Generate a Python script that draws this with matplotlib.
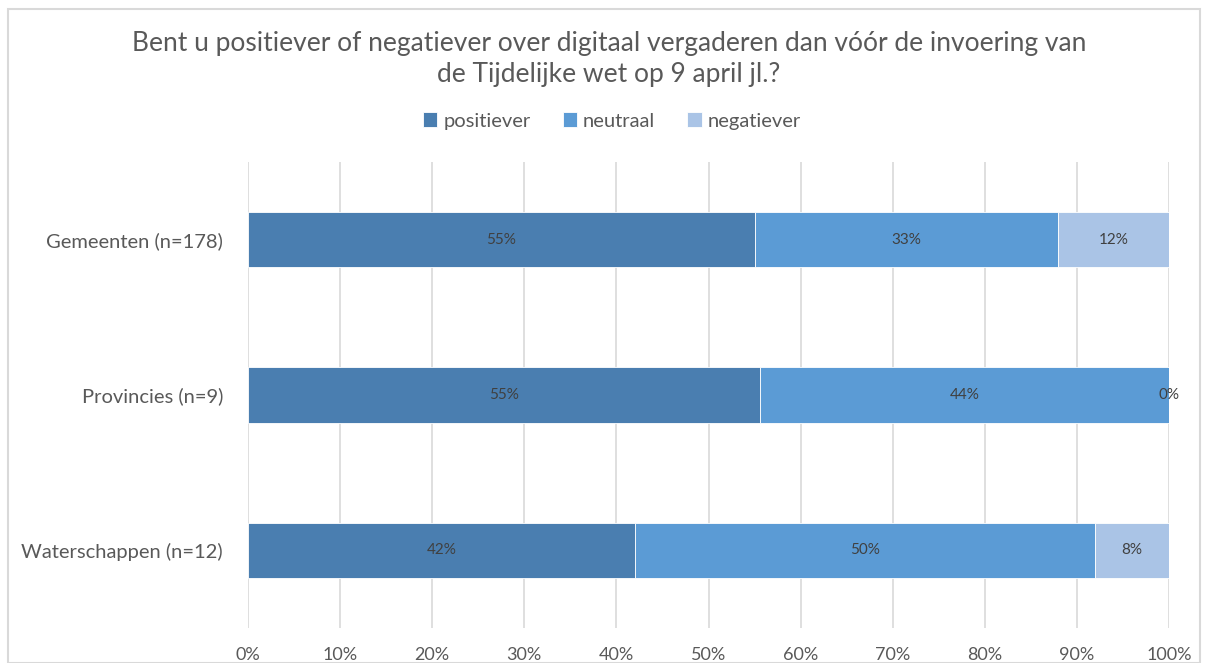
import matplotlib.pyplot as plt
from matplotlib.patches import Rectangle
from matplotlib.ticker import PercentFormatter

plt.rcParams['font.family'] = ['Lato', 'DejaVu Sans']

# data (percent per group)
groups = ['Gemeenten (n=178)', 'Provincies (n=9)', 'Waterschappen (n=12)']
series = ['positiever', 'neutraal', 'negatiever']
positiever = [55, 55, 42]
neutraal = [33, 44, 50]
negatiever = [12, 0, 8]
colors = ['#4a7eb0', '#5b9bd5', '#aac4e6']

W, H = 1209, 663
fig = plt.figure(figsize=(W / 100, H / 100), dpi=100, facecolor='white')

# chart border like the office chart frame
fig.patches.append(Rectangle((8 / W, 0), 1192 / W, (H - 9) / H, transform=fig.transFigure,
                             fill=False, edgecolor='#d9d9d9', linewidth=1.5))

ax = fig.add_axes([248 / W, (H - 628) / H, 921 / W, (628 - 162) / H])

# 100% stacked: normalise each row
vals = [positiever, neutraal, negatiever]
totals = [sum(v[i] for v in vals) for i in range(len(groups))]
left = [0.0] * len(groups)
for name, v, c in zip(series, vals, colors):
    share = [100 * v[i] / totals[i] for i in range(len(groups))]
    bars = ax.barh(range(len(groups)), share, left=left, height=0.355, color=c,
                   label=name, edgecolor='white', linewidth=0.6, zorder=3)
    for i, b in enumerate(bars):
        cx = left[i] + share[i] / 2
        ax.text(cx, i, f'{v[i]}%', ha='center', va='center', fontsize=11,
                color='#404040', zorder=4)
    left = [left[i] + share[i] for i in range(len(groups))]

ax.set_xlim(0, 100)
ax.set_ylim(2.5, -0.5)
ax.set_xticks(range(0, 101, 10))
ax.xaxis.set_major_formatter(PercentFormatter(decimals=0))
ax.set_yticks(range(len(groups)))
ax.set_yticklabels(groups)
ax.tick_params(axis='both', length=0, labelsize=13, colors='#595959')
ax.tick_params(axis='y', labelsize=14.5, pad=18)
ax.tick_params(axis='x', pad=14)
ax.grid(axis='x', color='#d9d9d9', linewidth=1.2, zorder=0)
for s in ax.spines.values():
    s.set_visible(False)

fig.text(609 / W, 1 - 59 / H,
         'Bent u positiever of negatiever over digitaal vergaderen dan vóór de invoering van\n'
         'de Tijdelijke wet op 9 april jl.?',
         ha='center', va='center', fontsize=19, color='#595959', linespacing=1.3)

fig.legend(loc='center', bbox_to_anchor=(612 / W, 1 - 121 / H), ncol=3, frameon=False,
           fontsize=14.5, labelcolor='#595959', handlelength=0.7, handleheight=0.7,
           handletextpad=0.3, columnspacing=1.6)

fig.savefig('out.png', dpi=100, facecolor='white')
